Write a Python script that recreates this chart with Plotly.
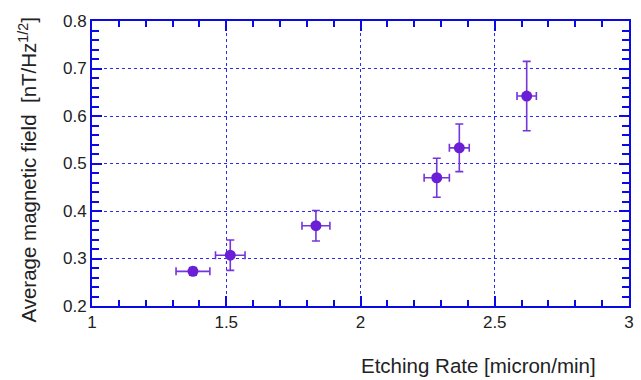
import plotly.graph_objects as go

# Etching rate vs. average magnetic field noise, with error bars in both directions
etch_rate = [1.376, 1.515, 1.834, 2.284, 2.368, 2.619]
etch_rate_err = [0.063, 0.055, 0.052, 0.047, 0.037, 0.036]
avg_field = [0.273, 0.307, 0.369, 0.470, 0.533, 0.642]
avg_field_err = [0.008, 0.032, 0.032, 0.041, 0.050, 0.073]

x_ticks = [1, 1.5, 2, 2.5, 3]
y_ticks = [0.2, 0.3, 0.4, 0.5, 0.6, 0.7, 0.8]

MARK = "#6a1fd6"
BAR = "#7535d8"
AXIS = "#0a0ae6"
GRID = "#2a2af0"
FONT = "Arial, Liberation Sans, sans-serif"

fig = go.Figure()
fig.add_trace(go.Scatter(
    x=etch_rate, y=avg_field, mode="markers",
    marker=dict(size=11, color=MARK, line=dict(width=0)),
    error_x=dict(type="data", array=etch_rate_err, visible=True,
                 color=BAR, thickness=1.6, width=4),
    error_y=dict(type="data", array=avg_field_err, visible=True,
                 color=BAR, thickness=1.6, width=4),
    showlegend=False,
))

fig.update_xaxes(
    range=[x_ticks[0], x_ticks[-1]], tickvals=x_ticks,
    showline=True, linecolor=AXIS, linewidth=2, mirror="ticks",
    ticks="inside", ticklen=10, tickwidth=2, tickcolor=AXIS,
    minor=dict(ticks="inside", dtick=0.1, ticklen=6, tickcolor=AXIS),
    showgrid=True, gridcolor=GRID, gridwidth=1, griddash="dot", zeroline=False,
    tickfont=dict(family=FONT, size=17, color="#222222"),
)
fig.update_yaxes(
    range=[y_ticks[0], y_ticks[-1]], tickvals=y_ticks,
    showline=True, linecolor=AXIS, linewidth=2, mirror="ticks",
    ticks="inside", ticklen=10, tickwidth=2, tickcolor=AXIS,
    minor=dict(ticks="inside", dtick=0.02, ticklen=7, tickcolor=AXIS),
    showgrid=True, gridcolor=GRID, gridwidth=1, griddash="dot", zeroline=False,
    tickfont=dict(family=FONT, size=17, color="#222222"),
)

fig.add_annotation(
    text="Etching Rate [micron/min]", xref="paper", yref="paper",
    x=0.72, y=-0.21, xanchor="center", yanchor="middle", showarrow=False,
    font=dict(family=FONT, size=20.5, color="#222222"),
)
fig.add_annotation(
    text="Average magnetic field  [nT/Hz<sup>1/2</sup>]", xref="paper", yref="paper",
    x=-0.12, y=0.477, xanchor="center", yanchor="middle", textangle=-90,
    showarrow=False, font=dict(family=FONT, size=20.5, color="#222222"),
)

fig.update_layout(
    width=641, height=380,
    margin=dict(l=92, r=7, t=21, b=74),
    plot_bgcolor="white", paper_bgcolor="white",
)

fig.write_html("out.html")
